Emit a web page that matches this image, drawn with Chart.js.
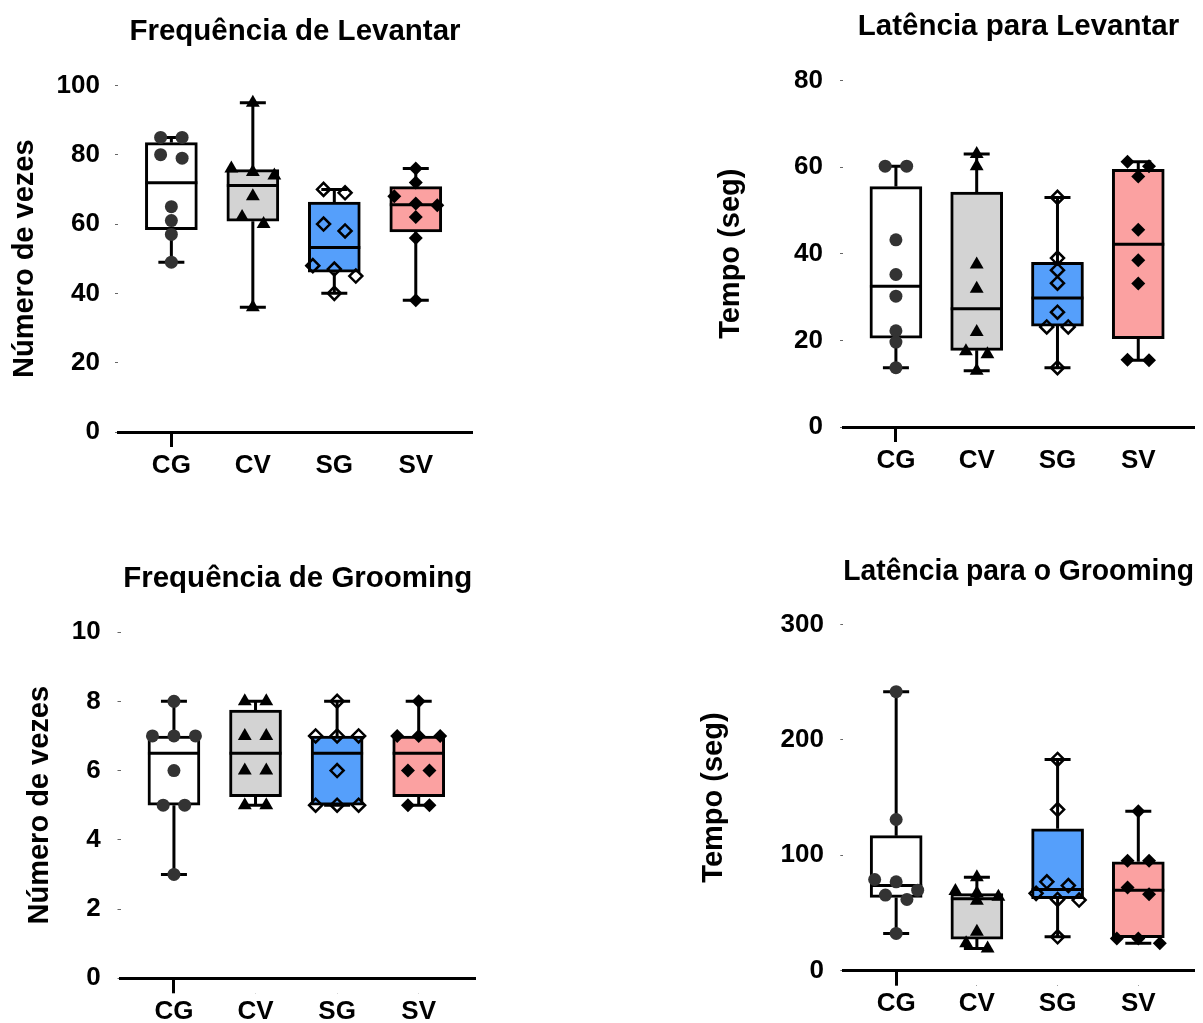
<!DOCTYPE html>
<html>
<head>
<meta charset="utf-8">
<script src="https://cdn.jsdelivr.net/npm/chart.js@4.4.1/dist/chart.umd.min.js"></script>
<style>
  html, body { margin: 0; padding: 0; background: #fff; overflow: hidden; width: 1203px; height: 1023px; }
  canvas { position: absolute; }
</style>
</head>
<body>
<canvas id="freqLev" width="560" height="510" style="left:0;top:0"></canvas>
<canvas id="latLev" width="503" height="510" style="left:700px;top:0"></canvas>
<canvas id="freqGroom" width="560" height="503" style="left:0;top:520px"></canvas>
<canvas id="latGroom" width="513" height="503" style="left:690px;top:520px"></canvas>
<script>
'use strict';

const groups = ['CG', 'CV', 'SG', 'SV'];

// box stats per group: [min, q1, median, q3, max]
const freqLevBox = [[49, 58.4, 71.9, 83.5, 85], [36, 60.8, 71.1, 75.7, 95], [40, 46.1, 53.2, 66.3, 70], [38, 57.7, 65.6, 70.8, 76]];
const freqLevPts = [
  [85, 85, 80, 79, 65, 61, 57, 49],
  [95, 76, 75, 74, 68, 62, 60, 36],
  [70, 69, 60, 58, 48, 47, 45, 40],
  [76, 72, 68, 65.9, 65.4, 62, 56, 38]
];

const latLevBox = [[13.7, 20.5, 32.5, 55.5, 60.2], [13, 17.7, 27.3, 54.2, 63], [13.7, 23.3, 29.8, 38, 53], [15.4, 20.4, 42.2, 59.5, 61.2]];
const latLevPts = [
  [60.2, 60.2, 43.2, 35.2, 30.2, 22.2, 19.6, 13.7],
  [63, 60.2, 37.5, 31.9, 21.9, 17.5, 16.8, 13],
  [53, 39, 36.2, 33.2, 26.5, 23.1, 23.1, 13.7],
  [61.2, 60.2, 57.8, 45.5, 38.5, 33.1, 15.5, 15.4]
];

const freqGroomBox = [[3, 5, 6.5, 7, 8], [5, 5.25, 6.5, 7.75, 8], [5, 5, 6.5, 7, 8], [5, 5.25, 6.5, 7, 8]];
const freqGroomPts = [
  [8, 7, 7, 7, 6, 5, 5, 3],
  [8, 8, 7, 7, 6, 6, 5, 5],
  [8, 7, 7, 7, 6, 5, 5, 5],
  [8, 7, 7, 7, 6, 6, 5, 5]
];

const latGroomBox = [[32.3, 63.5, 73.8, 117, 241.7], [19.3, 27.4, 62.3, 66.9, 81], [29.4, 62.3, 70.4, 122.9, 183], [23.7, 28.6, 69.8, 94.3, 138.2]];
const latGroomPts = [
  [241.7, 131, 79, 77, 69.8, 65.5, 61.7, 32.3],
  [81, 69, 67, 64, 60.6, 33.7, 23.7, 19.3],
  [183, 139.6, 77, 73.8, 67, 61.7, 61.2, 29.4],
  [138.2, 95.2, 95.2, 72.1, 66.3, 28, 28, 23.7]
];

const boxColors = ['#ffffff', '#d3d3d3', '#559ffb', '#fba1a1'];
const markers = [
  { pointStyle: 'circle', pointRadius: 6.5, backgroundColor: '#333', borderColor: '#333', borderWidth: 0 },
  { pointStyle: 'triangle', pointRadius: 8, backgroundColor: '#000', borderColor: '#000', borderWidth: 0 },
  { pointStyle: 'rectRot', pointRadius: 6.5, backgroundColor: 'rgba(0,0,0,0)', borderColor: '#000', borderWidth: 2.5 },
  { pointStyle: 'rectRot', pointRadius: 7, backgroundColor: '#000', borderColor: '#000', borderWidth: 0 }
];

const CAP = 13;       // half width of whisker caps, px
const SPACING = 21.5; // horizontal spacing of points in a row, px
const ROW_GAP = 11;   // px, points closer than this share a row

Chart.defaults.font.family = "'Liberation Sans', Arial, sans-serif";
Chart.defaults.color = '#000';

// whiskers, caps and median drawn from the bar (box) elements
const boxWhiskers = {
  id: 'boxWhiskers',
  afterDatasetDraw(chart, args) {
    const ds = chart.data.datasets[args.index];
    if (ds.type !== 'bar') return;
    const y = chart.scales.y;
    const ctx = chart.ctx;
    const py = v => y.getPixelForValue(v);
    ctx.save();
    ctx.strokeStyle = '#000';
    ctx.lineWidth = 3;
    args.meta.data.forEach((bar, i) => {
      const [mn, q1, md, q3, mx] = ds.stats[i];
      const x = bar.x, half = bar.width / 2;
      ctx.beginPath();
      ctx.moveTo(x, py(q1)); ctx.lineTo(x, py(mn));
      ctx.moveTo(x, py(q3)); ctx.lineTo(x, py(mx));
      ctx.moveTo(x - CAP, py(mn)); ctx.lineTo(x + CAP, py(mn));
      ctx.moveTo(x - CAP, py(mx)); ctx.lineTo(x + CAP, py(mx));
      ctx.moveTo(x - half, py(md)); ctx.lineTo(x + half, py(md));
      ctx.stroke();
    });
    ctx.restore();
  }
};

// spread points that sit at about the same height side by side
const swarm = {
  id: 'swarm',
  afterDatasetsUpdate(chart) {
    chart.data.datasets.forEach((ds, di) => {
      if (ds.type !== 'scatter') return;
      const pts = chart.getDatasetMeta(di).data.slice().sort((a, b) => a.y - b.y);
      let row = [];
      const flush = () => {
        const n = row.length;
        row.forEach((p, k) => { p.x += (k - (n - 1) / 2) * SPACING; });
        row = [];
      };
      pts.forEach(p => {
        if (row.length && (p.y - row[0].y > ROW_GAP || row.length >= 3)) flush();
        row.push(p);
      });
      flush();
    });
  }
};

function makeChart(id, cfg) {
  const datasets = [{
    type: 'bar',
    data: cfg.box.map((s, i) => ({ x: i, y: [s[1], s[3]] })),
    stats: cfg.box,
    backgroundColor: boxColors,
    borderColor: '#000',
    borderWidth: 3,
    borderSkipped: false,
    barThickness: 52,
    order: 10
  }];
  cfg.pts.forEach((vals, i) => {
    datasets.push(Object.assign({
      type: 'scatter',
      data: vals.map(v => ({ x: i, y: v })),
      order: 1
    }, markers[i]));
  });

  return new Chart(document.getElementById(id), {
    type: 'bar',
    data: { datasets: datasets },
    plugins: [boxWhiskers, swarm],
    options: {
      responsive: false,
      animation: false,
      events: [],
      layout: { padding: { left: 0, right: cfg.padR, top: 0, bottom: 0 } },
      plugins: {
        legend: { display: false },
        tooltip: { enabled: false },
        title: {
          display: true,
          text: cfg.title,
          fullSize: false,
          font: { size: 29.5, weight: 'bold' },
          color: '#000',
          padding: { top: cfg.tTop, bottom: cfg.tBot }
        }
      },
      scales: {
        x: {
          type: 'linear',
          offset: false,
          min: -0.655,
          max: 3.69,
          afterBuildTicks: s => { s.ticks = groups.map((g, i) => ({ value: i })); },
          afterFit: s => { s.height = cfg.xH; },
          ticks: {
            callback: v => groups[v],
            font: { size: 26, weight: 'bold' },
            color: '#000',
            padding: 3,
            autoSkip: false,
            maxRotation: 0
          },
          grid: {
            offset: false,
            drawOnChartArea: false,
            drawTicks: true,
            tickLength: 15,
            tickColor: c => c.index === 0 ? '#000' : '#777',
            tickWidth: c => c.index === 0 ? 3 : 1,
            tickBorderDash: c => c.index === 0 ? [] : [0, 13, 2]
          },
          border: { display: true, color: '#000', width: 3 }
        },
        y: {
          min: 0,
          max: cfg.yMax,
          afterFit: s => { s.width = cfg.yW; },
          ticks: {
            stepSize: cfg.yStep,
            font: { size: 26, weight: 'bold' },
            color: '#000',
            padding: cfg.tickPad
          },
          grid: {
            drawOnChartArea: false,
            drawTicks: true,
            tickLength: 3,
            tickColor: '#666',
            tickWidth: 1
          },
          border: { display: false },
          title: {
            display: true,
            text: cfg.yTitle,
            font: { size: 29, weight: 'bold' },
            color: '#000',
            padding: { top: cfg.yTitlePad, bottom: 0 }
          }
        }
      }
    }
  });
}

makeChart('freqLev', {
  title: 'Frequência de Levantar', yTitle: 'Número de vezes',
  box: freqLevBox, pts: freqLevPts, yMax: 100, yStep: 20,
  yW: 118, padR: 88, xH: 78, tTop: 14.6, tBot: 35.4, yTitlePad: 7.6, tickPad: 15
});
makeChart('latLev', {
  title: 'Latência para Levantar', yTitle: 'Tempo (seg)',
  box: latLevBox, pts: latLevPts, yMax: 80, yStep: 20,
  yW: 143, padR: 6, xH: 83, tTop: 9.6, tBot: 35.4, yTitlePad: 13.6, tickPad: 17
});
makeChart('freqGroom', {
  title: 'Frequência de Grooming', yTitle: 'Número de vezes',
  box: freqGroomBox, pts: freqGroomPts, yMax: 10, yStep: 2,
  yW: 120.5, padR: 85, xH: 44.7, tTop: 41.6, tBot: 35.1, yTitlePad: 22.6, tickPad: 16.8
});
makeChart('latGroom', {
  title: 'Latência para o Grooming', yTitle: 'Tempo (seg)',
  box: latGroomBox, pts: latGroomPts, yMax: 300, yStep: 100,
  yW: 153.3, padR: 6, xH: 52.3, tTop: 34.6, tBot: 34.4, yTitlePad: 6.6, tickPad: 16.3
});
</script>
</body>
</html>
